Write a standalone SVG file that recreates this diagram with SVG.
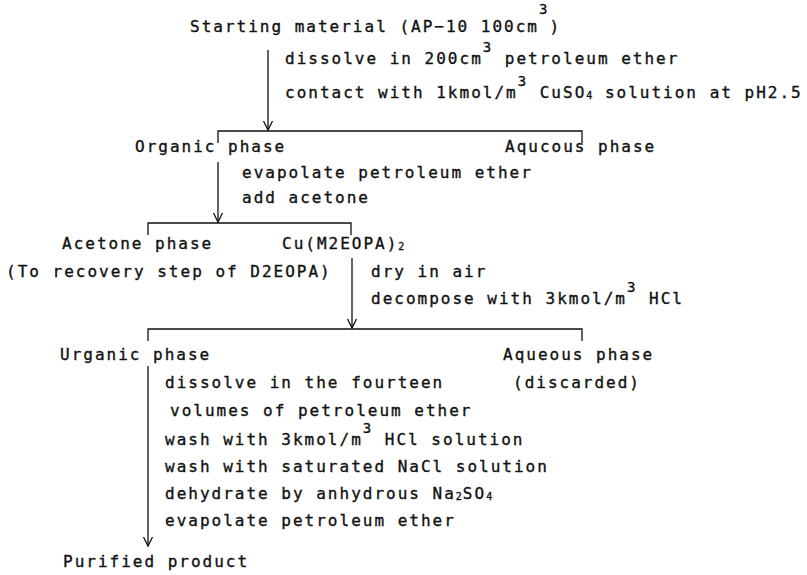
<svg xmlns="http://www.w3.org/2000/svg" width="807" height="575" viewBox="0 0 807 575">
<defs>
<style>
text{font-family:"DejaVu Sans Mono","Liberation Mono",monospace;font-size:16px;letter-spacing:2px;fill:#111;stroke:#111;stroke-width:0.35px;}
.sub{font-size:10px;letter-spacing:1px;}
.sup{font-size:14px;}
.ln{fill:none;stroke:#111;stroke-width:1.3;}
</style>
</defs>
<rect width="807" height="575" fill="#fff"/>
<g id="connectors">
<line class="ln" x1="268" y1="50" x2="268" y2="130"/>
<path class="ln" d="M263.5,121 L268,130 L272.5,121"/>
<path class="ln" d="M218,143 V131 H582 V143"/>
<line class="ln" x1="218" y1="162" x2="218" y2="222"/>
<path class="ln" d="M213.5,213 L218,222 L222.5,213"/>
<path class="ln" d="M148,235 V223 H351 V235"/>
<line class="ln" x1="352" y1="258" x2="352" y2="328"/>
<path class="ln" d="M347.5,319 L352,328 L356.5,319"/>
<path class="ln" d="M148,341 V329 H582 V341"/>
<line class="ln" x1="148" y1="366" x2="148" y2="546"/>
<path class="ln" d="M143.5,537 L148,546 L152.5,537"/>
</g>
<g id="start"><text x="190" y="32">Starting material (AP−10 100cm<tspan class="sup" dy="-18">3</tspan><tspan dy="18">)</tspan></text></g>
<g id="step1">
<text x="285" y="64">dissolve in 200cm<tspan class="sup" dy="-12">3</tspan><tspan dy="12"> petroleum ether</tspan></text>
<text x="285" y="98">contact with 1kmol/m<tspan class="sup" dy="-12">3</tspan><tspan dy="12"> CuSO</tspan><tspan class="sub" dy="1">4</tspan><tspan dy="-1"> solution at pH2.5</tspan></text>
</g>
<g id="organic1"><text x="135" y="152">Organic phase</text></g>
<g id="aqueous1"><text x="505" y="152">Aqucous phase</text></g>
<g id="step2">
<text x="242" y="178">evapolate petroleum ether</text>
<text x="242" y="203">add acetone</text>
</g>
<g id="acetone">
<text x="62" y="249">Acetone phase</text>
<text x="6" y="277">(To recovery step of D2EOPA)</text>
</g>
<g id="cu"><text x="282" y="249">Cu(M2EOPA)<tspan class="sub" dy="1">2</tspan></text></g>
<g id="step3">
<text x="371" y="277">dry in air</text>
<text x="371" y="304">decompose with 3kmol/m<tspan class="sup" dy="-12">3</tspan><tspan dy="12"> HCl</tspan></text>
</g>
<g id="organic2"><text x="60" y="360">Urganic phase</text></g>
<g id="aqueous2">
<text x="503" y="360">Aqueous phase</text>
<text x="513" y="388">(discarded)</text>
</g>
<g id="step4">
<text x="165" y="388">dissolve in the fourteen</text>
<text x="170" y="416">volumes of petroleum ether</text>
<text x="165" y="445">wash with 3kmol/m<tspan class="sup" dy="-12">3</tspan><tspan dy="12"> HCl solution</tspan></text>
<text x="165" y="472">wash with saturated NaCl solution</text>
<text x="165" y="499">dehydrate by anhydrous Na<tspan class="sub" dy="1">2</tspan><tspan dy="-1">SO</tspan><tspan class="sub" dy="1">4</tspan></text>
<text x="165" y="526">evapolate petroleum ether</text>
</g>
<g id="product"><text x="63" y="567">Purified product</text></g>
</svg>
